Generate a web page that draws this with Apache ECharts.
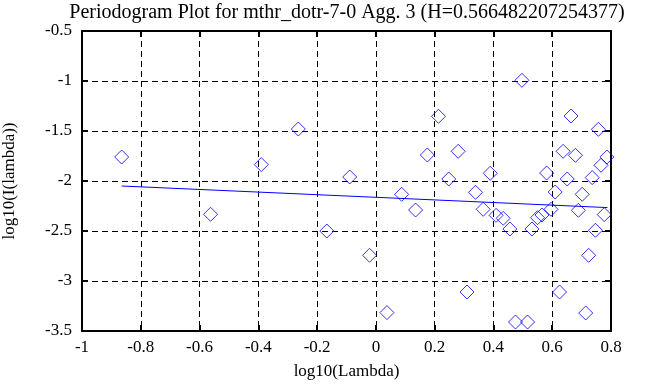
<!DOCTYPE html>
<html>
<head>
<meta charset="utf-8">
<script src="https://cdn.jsdelivr.net/npm/echarts@6/dist/echarts.min.js"></script>
<style>
html,body{margin:0;padding:0;background:#fff;}
#chart{width:668px;height:387px;}
</style>
</head>
<body>
<div id="chart"></div>
<script>
var titleText = 'Periodogram Plot for mthr_dotr-7-0 Agg. 3 (H=0.566482207254377)';
var xName = 'log10(Lambda)';
var yName = 'log10(I(lambda))';

var logLambda = [-0.865,-0.5625,-0.39,-0.264,-0.167,-0.089,-0.0215,0.0376,0.0876,0.135,0.175,0.213,0.248,0.28,0.31,0.339,0.365,0.389,0.409,0.433,0.456,0.475,0.497,0.516,0.531,0.55,0.565,0.581,0.596,0.61,0.625,0.637,0.651,0.664,0.679,0.689,0.702,0.714,0.724,0.736,0.747,0.757,0.766,0.777,0.786];
var logI = [-1.76,-2.333,-1.836,-1.48,-2.5,-1.96,-2.743,-3.316,-2.133,-2.29,-1.74,-1.353,-1.98,-1.703,-3.11,-2.113,-2.283,-1.923,-2.343,-2.373,-2.48,-3.41,-0.993,-3.41,-2.48,-2.367,-2.34,-1.92,-2.283,-2.11,-3.11,-1.703,-1.98,-1.35,-1.743,-2.293,-2.133,-3.32,-2.743,-1.966,-2.493,-1.483,-1.843,-2.336,-1.76];

var fitX = [-0.865, 0.788];
var fitY = [-2.05, -2.266];

var xMin = -1, xMax = 0.8, xStep = 0.2;
var yMin = -3.5, yMax = -0.5, yStep = 0.5;

var FONT = "'Liberation Serif','Times New Roman',serif";

var pts = logLambda.map(function(x,i){return [x, logI[i]];});
var fitPts = fitX.map(function(x,i){return [x, fitY[i]];});

var chart = echarts.init(document.getElementById('chart'), null, {renderer:'canvas'});

function fmt(v){ return String(Math.round(v*10)/10); }

var gridLine = {show:true, lineStyle:{color:'#000', width:1, type:[6,4]}};
var axLine = {show:true, onZero:false, lineStyle:{color:'#000', width:2}};
var axTick = {show:true, inside:true, length:6, lineStyle:{color:'#000', width:2}};

var option = {
  animation:false,
  backgroundColor:'#fff',
  title:{
    text:titleText,
    left:342, top:-2,
    textAlign:'center',
    textStyle:{fontFamily:FONT, fontSize:20, fontWeight:'normal', color:'#000'}
  },
  grid:{left:82, right:57, top:31, bottom:56, containLabel:false, outerBoundsMode:'none'},
  xAxis:[{
    type:'value', position:'bottom', min:xMin, max:xMax, interval:xStep,
    name:xName, nameLocation:'middle', nameGap:32,
    nameTextStyle:{fontFamily:FONT, fontSize:17, color:'#000'},
    axisLine:axLine, axisTick:axTick, splitLine:gridLine,
    axisLabel:{fontFamily:FONT, fontSize:17, color:'#000', margin:8, formatter:fmt}
  },{
    type:'value', position:'top', min:xMin, max:xMax, interval:xStep,
    axisLine:axLine, axisTick:axTick, splitLine:{show:false}, axisLabel:{show:false}
  }],
  yAxis:[{
    type:'value', position:'left', min:yMin, max:yMax, interval:yStep,
    name:yName, nameLocation:'middle', nameGap:64, nameRotate:90,
    nameTextStyle:{fontFamily:FONT, fontSize:17, color:'#000'},
    axisLine:axLine, axisTick:axTick, splitLine:gridLine,
    axisLabel:{fontFamily:FONT, fontSize:17, color:'#000', margin:10, padding:[9,0,0,0], formatter:fmt}
  },{
    type:'value', position:'right', min:yMin, max:yMax, interval:yStep,
    axisLine:axLine, axisTick:axTick, splitLine:{show:false}, axisLabel:{show:false}
  }],
  series:[{
    type:'scatter', xAxisIndex:0, yAxisIndex:0,
    data:pts, symbol:'diamond', symbolSize:14, clip:false,
    itemStyle:{color:'rgba(0,0,0,0)', borderColor:'#0000ff', borderWidth:1},
    emphasis:{disabled:true}, silent:true
  },{
    type:'line', xAxisIndex:0, yAxisIndex:0,
    data:fitPts, showSymbol:false, symbol:'none',
    lineStyle:{color:'#0000ff', width:1}, silent:true
  }]
};
chart.setOption(option);
</script>
</body>
</html>
